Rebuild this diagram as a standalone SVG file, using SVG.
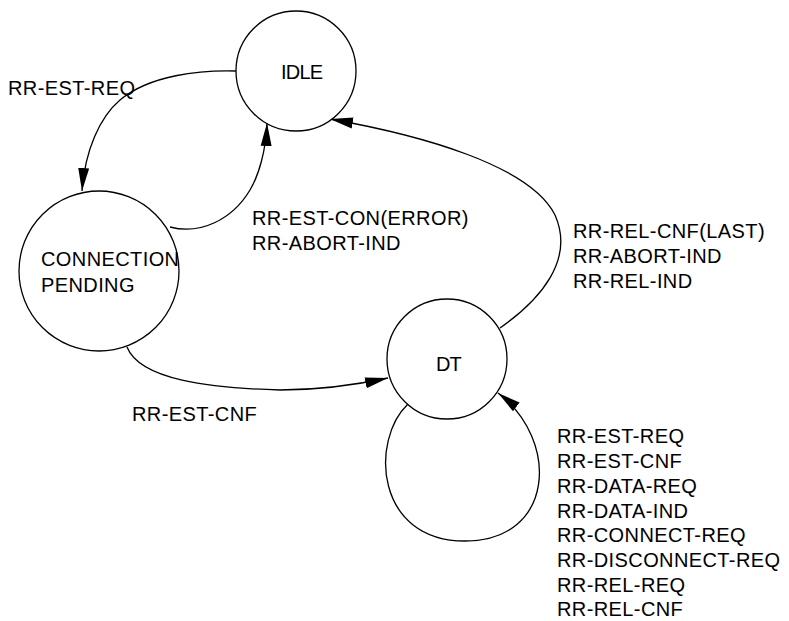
<svg xmlns="http://www.w3.org/2000/svg" width="789" height="621" viewBox="0 0 789 621">
  <style>
    .node { fill: #ffffff; stroke: #000000; stroke-width: 1.3; }
    .edge { fill: none; stroke: #000000; stroke-width: 1.3; marker-end: url(#arrow); }
    text { font-family: "Liberation Sans", Arial, sans-serif; font-size: 20px; letter-spacing: 0.4px; fill: #000000; }
  </style>
  <defs>
    <marker id="arrow" markerUnits="userSpaceOnUse" markerWidth="23" markerHeight="12" refX="23" refY="5.5" viewBox="0 0 23 11" orient="auto">
      <path d="M0,0 L23,5.5 L0,11 z" fill="#000000"/>
    </marker>
  </defs>
  <rect width="789" height="621" fill="#ffffff"/>

  <g id="connectors">
    <path class="edge" d="M236,71 C200,70 150,75 120,100 C100,117 85,150 82,191"/>
    <path class="edge" d="M170,227 C200,235 232,220 250,190 C259,175 266,150 267,123"/>
    <path class="edge" d="M500,328 C540,300 575,260 555,215 C530,165 420,135 330,119"/>
    <path class="edge" d="M127,347 C140,380 210,388 280,390 C320,390 360,384 388,378"/>
    <path class="edge" d="M408,404 C370,440 375,541 465,541 C555,541 560,440 498,393"/>
  </g>

  <g id="idle">
    <circle class="node" cx="296" cy="71" r="60"/>
    <text x="281" y="79" style="letter-spacing:-0.8px">IDLE</text>
  </g>
  <g id="connection-pending">
    <circle class="node" cx="99" cy="271" r="80"/>
    <text x="41" y="266">CONNECTION</text>
    <text x="41" y="292">PENDING</text>
  </g>
  <g id="dt">
    <circle class="node" cx="447" cy="359" r="60"/>
    <text x="436" y="371" style="letter-spacing:-1px">DT</text>
  </g>

  <g id="labels">
    <text x="8" y="95">RR-EST-REQ</text>
    <text x="252" y="225">RR-EST-CON(ERROR)</text>
    <text x="252" y="250">RR-ABORT-IND</text>
    <text x="573" y="238">RR-REL-CNF(LAST)</text>
    <text x="573" y="263">RR-ABORT-IND</text>
    <text x="573" y="288">RR-REL-IND</text>
    <text x="132" y="421">RR-EST-CNF</text>
    <text x="557" y="443">RR-EST-REQ</text>
    <text x="557" y="468">RR-EST-CNF</text>
    <text x="557" y="493">RR-DATA-REQ</text>
    <text x="557" y="518">RR-DATA-IND</text>
    <text x="557" y="542">RR-CONNECT-REQ</text>
    <text x="557" y="567">RR-DISCONNECT-REQ</text>
    <text x="557" y="592">RR-REL-REQ</text>
    <text x="557" y="616">RR-REL-CNF</text>
  </g>
</svg>
